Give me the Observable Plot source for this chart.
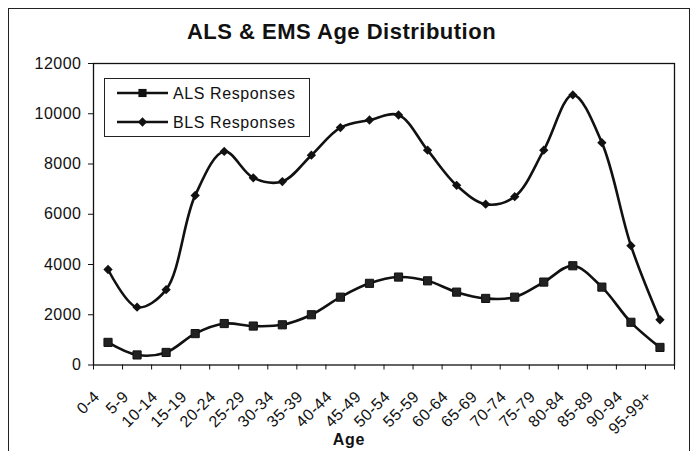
<!DOCTYPE html>
<html>
<head>
<meta charset="utf-8">
<script src="https://cdn.jsdelivr.net/npm/d3@7"></script>
<script src="https://cdn.jsdelivr.net/npm/@observablehq/plot@0.6"></script>
<style>
  html, body { margin: 0; padding: 0; background: #fff; }
  #wrap { position: relative; width: 694px; height: 451px; overflow: hidden; font-family: "Liberation Sans", Arial, sans-serif; }
  #border { position: absolute; left: 8px; top: 8px; width: 682px; height: 460px; border: 1px solid #222; box-sizing: border-box; }
  #chart, #overlay { position: absolute; left: 0; top: 0; }
</style>
</head>
<body>
<div id="wrap">
  <div id="border"></div>
  <div id="chart"></div>
  <svg id="overlay" width="694" height="451"></svg>
</div>
<script>
const title = "ALS & EMS Age Distribution";
const xTitle = "Age";
const ages = ["0-4","5-9","10-14","15-19","20-24","25-29","30-34","35-39","40-44","45-49",
              "50-54","55-59","60-64","65-69","70-74","75-79","80-84","85-89","90-94","95-99+"];
const seriesNames = ["ALS Responses", "BLS Responses"];
const alsValues = [900, 400, 500, 1250, 1650, 1550, 1600, 2000, 2700, 3250,
                   3500, 3350, 2900, 2650, 2700, 3300, 3950, 3100, 1700, 700];
const blsValues = [3800, 2300, 3000, 6750, 8500, 7450, 7300, 8350, 9450, 9750,
                   9950, 8550, 7150, 6400, 6700, 8550, 10750, 8850, 4750, 1800];
const yTicks = [0, 2000, 4000, 6000, 8000, 10000, 12000];

const data = [];
ages.forEach((a, i) => {
  data.push({i, age: a, series: seriesNames[0], value: alsValues[i]});
  data.push({i, age: a, series: seriesNames[1], value: blsValues[i]});
});
const als = data.filter(d => d.series === seriesNames[0]);
const bls = data.filter(d => d.series === seriesNames[1]);

const chart = Plot.plot({
  width: 694,
  height: 451,
  marginLeft: 93,
  marginRight: 20,
  marginTop: 63,
  marginBottom: 86.5,
  style: {fontFamily: "Liberation Sans, Arial, sans-serif", fontSize: "16px", color: "#111", background: "transparent", letterSpacing: "0.5px"},
  x: {type: "linear", domain: [-0.5, ages.length - 0.5]},
  y: {domain: [0, 12000]},
  marks: [
    Plot.frame({stroke: "#111", strokeWidth: 1.3}),
    Plot.axisY({ticks: yTicks, tickSize: 5, tickPadding: 7, label: null, fontSize: 16, tickFormat: d => String(d)}),
    Plot.axisX({ticks: d3.range(ages.length + 1).map(k => k - 0.5), tickSize: 5, tickFormat: () => "", label: null}),
    Plot.axisX({ticks: d3.range(ages.length), tickSize: 0, tickPadding: 29, dx: -11, tickRotate: -45,
                tickFormat: k => ages[k], label: null, fontSize: 16}),
    Plot.lineY(bls, {x: "i", y: "value", curve: "catmull-rom", stroke: "#111", strokeWidth: 2.6}),
    Plot.lineY(als, {x: "i", y: "value", curve: "catmull-rom", stroke: "#111", strokeWidth: 2.6}),
    Plot.dot(bls, {x: "i", y: "value", symbol: "diamond2", r: 4.2, fill: "#111", stroke: "none"}),
    Plot.dot(als, {x: "i", y: "value", symbol: "square", r: 4.6, fill: "#222", stroke: "#111", strokeWidth: 1})
  ]
});
document.getElementById("chart").appendChild(chart);

// Title, axis title and legend
const svg = d3.select("#overlay").style("font-family", "Liberation Sans, Arial, sans-serif");
svg.append("text").attr("x", 341.5).attr("y", 39).attr("text-anchor", "middle")
  .attr("font-size", 22).attr("font-weight", "bold").attr("letter-spacing", 0.5).attr("fill", "#111").text(title);
svg.append("text").attr("x", 349).attr("y", 445).attr("text-anchor", "middle")
  .attr("font-size", 16).attr("font-weight", "bold").attr("letter-spacing", 0.8).attr("fill", "#111").text(xTitle);

const lg = svg.append("g");
lg.append("rect").attr("x", 104.5).attr("y", 78.5).attr("width", 205).attr("height", 58)
  .attr("fill", "#fff").attr("stroke", "#222").attr("stroke-width", 1);
const sym = [d3.symbol(d3.symbolSquare, 4.6 * 4.6 * Math.PI), d3.symbol(d3.symbolDiamond2, 4.2 * 4.2 * Math.PI)];
seriesNames.forEach((name, k) => {
  const y = 93 + k * 29;
  lg.append("line").attr("x1", 117).attr("x2", 168).attr("y1", y).attr("y2", y)
    .attr("stroke", "#111").attr("stroke-width", 2.6);
  lg.append("path").attr("d", sym[k]()).attr("transform", `translate(142.5,${y})`).attr("fill", "#111");
  lg.append("text").attr("x", 173).attr("y", y).attr("dy", "0.36em").attr("font-size", 16)
    .attr("letter-spacing", 0.6).attr("fill", "#111").text(name);
});
</script>
</body>
</html>
